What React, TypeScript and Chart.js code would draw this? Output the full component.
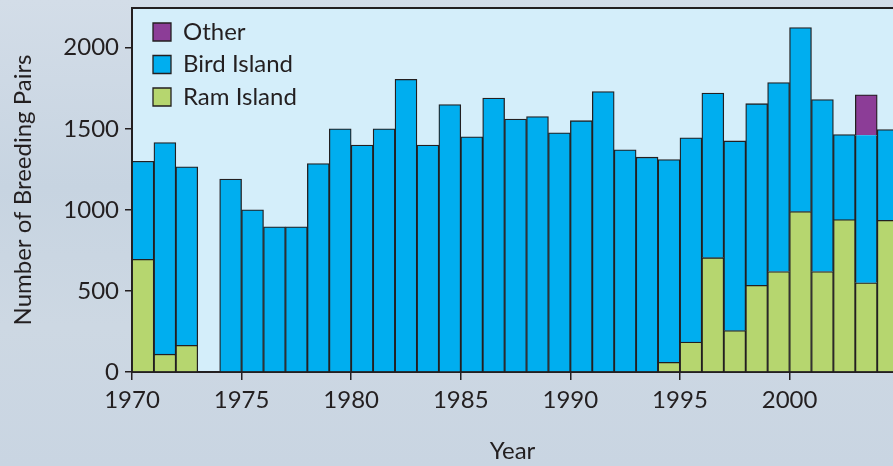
import React, { useEffect, useRef } from "react";
import { Chart, registerables } from "chart.js";

Chart.register(...registerables);

// ---- data ----
const years = [
  1970, 1971, 1972, 1973, 1974, 1975, 1976, 1977, 1978, 1979,
  1980, 1981, 1982, 1983, 1984, 1985, 1986, 1987, 1988, 1989,
  1990, 1991, 1992, 1993, 1994, 1995, 1996, 1997, 1998, 1999,
  2000, 2001, 2002, 2003, 2004,
];
const ramIsland: (number | null)[] = [
  695, 110, 165, null, null, null, null, null, null, null,
  null, null, null, null, null, null, null, null, null, null,
  null, null, null, null, 60, 185, 705, 255, 535, 620,
  990, 620, 940, 550, 935,
];
const birdIsland: (number | null)[] = [
  605, 1305, 1100, null, 1190, 1000, 895, 895, 1285, 1500,
  1400, 1500, 1805, 1400, 1650, 1450, 1690, 1560, 1575, 1475,
  1550, 1730, 1370, 1325, 1250, 1260, 1015, 1170, 1120, 1165,
  1135, 1060, 525, 910, 560,
];
const other: (number | null)[] = [
  null, null, null, null, null, null, null, null, null, null,
  null, null, null, null, null, null, null, null, null, null,
  null, null, null, null, null, null, null, null, null, null,
  null, null, null, 250, null,
];
const yTickValues = [0, 500, 1000, 1500, 2000];
const xTickValues = [1970, 1975, 1980, 1985, 1990, 1995, 2000];

const INK = "#231F20";
const FONT = "Lato";

const toPoints = (vals: (number | null)[]) =>
  years.map((yr, i) => ({ x: yr + 0.5, y: vals[i] }));

const areaPlugin = {
  id: "areaBg",
  beforeDraw(chart: any) {
    const { ctx, chartArea: a } = chart;
    ctx.save();
    ctx.fillStyle = "#D4EEFA";
    ctx.fillRect(a.left, a.top, a.right - a.left, a.bottom - a.top);
    ctx.strokeStyle = INK;
    ctx.lineWidth = 2;
    ctx.beginPath();
    ctx.moveTo(a.left, a.top);
    ctx.lineTo(a.right, a.top);
    ctx.stroke();
    ctx.restore();
    const lg = chart.legend;
    if (lg) {
      lg.left = a.left + 12.5;
      lg.top = a.top + 3.5;
    }
  },
};

export default function App() {
  const ref = useRef<HTMLCanvasElement | null>(null);

  useEffect(() => {
    if (!ref.current) return;
    const bw = 1.3;
    const chart = new Chart(ref.current, {
      type: "bar",
      data: {
        datasets: [
          {
            label: "Ram Island",
            data: toPoints(ramIsland) as any,
            backgroundColor: "#B6D66F",
            borderColor: INK,
            borderWidth: bw,
          },
          {
            label: "Bird Island",
            data: toPoints(birdIsland) as any,
            backgroundColor: "#00AEEF",
            borderColor: INK,
            borderWidth: ((c: any) =>
              c && c.dataIndex !== undefined && other[c.dataIndex] != null
                ? { top: 0, left: bw, right: bw, bottom: 0 }
                : bw) as any,
          },
          {
            label: "Other",
            data: toPoints(other) as any,
            backgroundColor: "#8C3D97",
            borderColor: INK,
            borderWidth: bw,
          },
        ],
      },
      options: {
        responsive: false,
        animation: false,
        events: [],
        font: { family: FONT },
        categoryPercentage: 1,
        barPercentage: 1,
        layout: { padding: { top: 8, left: 0, right: 0, bottom: 0 } },
        scales: {
          x: {
            type: "linear",
            stacked: true,
            offset: false,
            min: 1970,
            max: 2004.72,
            grid: {
              offset: false,
              drawOnChartArea: false,
              drawTicks: true,
              tickLength: 8,
              color: INK,
              lineWidth: 1.5,
            },
            border: { display: true, color: INK, width: 2 },
            afterBuildTicks: (s: any) => {
              s.ticks = xTickValues.map((v) => ({ value: v }));
            },
            ticks: {
              autoSkip: false,
              maxRotation: 0,
              padding: 6,
              color: INK,
              font: { family: FONT, size: 24 },
              callback: (v: any) => String(v),
            },
            title: {
              display: true,
              text: "Year",
              color: INK,
              font: { family: FONT, size: 24 },
              padding: { top: 0, bottom: 0 },
            },
            afterFit: (s: any) => {
              s.height = 94;
              s.paddingLeft = 0;
              s.paddingRight = 0;
            },
          },
          y: {
            type: "linear",
            stacked: true,
            min: 0,
            max: 2245,
            grid: {
              drawOnChartArea: false,
              drawTicks: true,
              tickLength: 7,
              color: INK,
              lineWidth: 1.5,
            },
            border: { display: true, color: INK, width: 2 },
            afterBuildTicks: (s: any) => {
              s.ticks = yTickValues.map((v) => ({ value: v }));
            },
            ticks: {
              padding: 6,
              color: INK,
              font: { family: FONT, size: 24 },
              callback: (v: any) => String(v),
            },
            title: {
              display: true,
              text: "Number of Breeding Pairs",
              color: INK,
              font: { family: FONT, size: 24 },
              padding: { top: 8.6, bottom: 0 },
            },
            afterFit: (s: any) => {
              s.width = 132;
              s.paddingTop = 0;
              s.paddingBottom = 0;
            },
          },
        },
        plugins: {
          tooltip: { enabled: false },
          legend: {
            display: true,
            position: "chartArea",
            align: "start",
            reverse: true,
            labels: {
              color: INK,
              font: { family: FONT, size: 24 },
              boxWidth: 18,
              boxHeight: 18,
              padding: 8.5,
            },
          },
        },
      } as any,
      plugins: [areaPlugin],
    });
    return () => chart.destroy();
  }, []);

  return (
    <div
      style={{
        position: "fixed",
        left: 0,
        top: 0,
        width: 893,
        height: 466,
        background:
          "linear-gradient(180deg, #d3dde8 0%, #c7d4e1 40%, #cdd8e3 70%, #c9d5e2 100%)",
      }}
    >
      <canvas ref={ref} width={893} height={466} style={{ display: "block" }} />
    </div>
  );
}
